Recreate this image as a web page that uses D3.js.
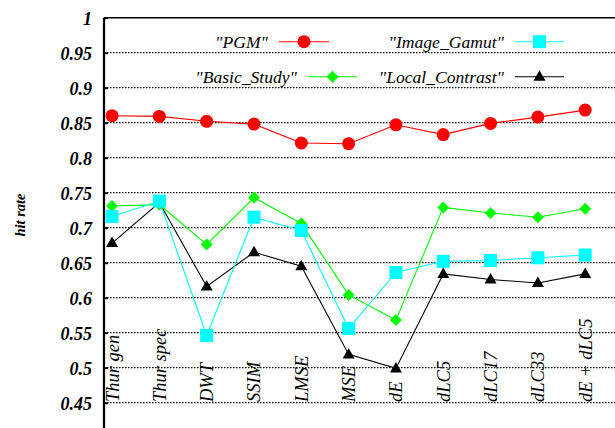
<!DOCTYPE html>
<html>
<head>
<meta charset="utf-8">
<script src="https://cdn.jsdelivr.net/npm/d3@7/dist/d3.min.js"></script>
<style>
  html, body { margin: 0; padding: 0; background: #fff; }
  svg { display: block; }
  text { font-family: "Liberation Serif", "Times New Roman", Times, "DejaVu Serif", serif; }
</style>
</head>
<body>
<svg id="chart" width="615" height="428"></svg>
<script>
const categories = ["Thur gen", "Thur spec", "DWT", "SSIM", "LMSE", "MSE", "dE", "dLC5", "dLC17", "dLC33", "dE + dLC5"];
const pgm = [0.860, 0.859, 0.852, 0.848, 0.821, 0.820, 0.847, 0.833, 0.849, 0.858, 0.868];
const imageGamut = [0.716, 0.738, 0.546, 0.715, 0.696, 0.556, 0.636, 0.652, 0.653, 0.657, 0.661];
const basicStudy = [0.731, 0.733, 0.676, 0.743, 0.706, 0.604, 0.568, 0.729, 0.721, 0.715, 0.727];
const localContrast = [0.678, 0.736, 0.616, 0.665, 0.645, 0.519, 0.499, 0.634, 0.626, 0.621, 0.634];
const yTicks = [0.45, 0.5, 0.55, 0.6, 0.65, 0.7, 0.75, 0.8, 0.85, 0.9, 0.95, 1];

const svg = d3.select("#chart");
const plotLeft = 104, plotTop = 17.7;

const x = d3.scaleLinear().domain([-0.17, 10.63]).range([plotLeft, 615]);
const y = d3.scaleLinear().domain([0.4, 1]).range([437.7, plotTop]);

// grid lines
svg.append("g").selectAll("line")
  .data(yTicks.filter(t => t < 1))
  .join("line")
  .attr("x1", plotLeft).attr("x2", 615)
  .attr("y1", d => y(d)).attr("y2", d => y(d))
  .attr("stroke", "#000").attr("stroke-width", 1.3)
  .attr("stroke-dasharray", "1.5,1.5");

// axis with ticks
const yAxis = d3.axisLeft(y).tickValues(yTicks).tickSize(-4).tickFormat(d3.format("~g"));
const gy = svg.append("g").attr("transform", `translate(${plotLeft},0)`).call(yAxis);
gy.attr("font-family", null);
gy.select(".domain").remove();
gy.selectAll(".tick line").attr("stroke", "#000").attr("stroke-width", 2);
gy.selectAll(".tick text")
  .attr("x", -12)
  .attr("dy", "0.35em")
  .attr("font-style", "italic").attr("font-weight", "bold")
  .attr("font-size", 18).attr("fill", "#000");

// frame
svg.append("line").attr("x1", plotLeft).attr("x2", plotLeft).attr("y1", plotTop).attr("y2", 428)
  .attr("stroke", "#000").attr("stroke-width", 2.2);
svg.append("line").attr("x1", plotLeft).attr("x2", 615).attr("y1", plotTop).attr("y2", plotTop)
  .attr("stroke", "#000").attr("stroke-width", 1.4);

// y title
svg.append("text")
  .attr("transform", `translate(25,215) rotate(-90)`)
  .attr("text-anchor", "middle")
  .attr("font-style", "italic").attr("font-weight", "bold")
  .attr("font-size", 14.5).text("hit rate");

// x labels (rotated)
svg.append("g").selectAll("text")
  .data(categories)
  .join("text")
  .attr("transform", (d, i) => `translate(${x(i)},402) rotate(-90)`)
  .attr("dy", "0.35em")
  .attr("text-anchor", "start")
  .attr("font-style", "italic")
  .attr("font-size", 18.5).attr("fill", "#000")
  .text(d => d);

const series = [
  { name: "\"PGM\"", values: pgm, color: "#ff0000", shape: "circle" },
  { name: "\"Image_Gamut\"", values: imageGamut, color: "#00ffff", shape: "square" },
  { name: "\"Basic_Study\"", values: basicStudy, color: "#00ff00", shape: "diamond" },
  { name: "\"Local_Contrast\"", values: localContrast, color: "#000000", shape: "triangle" }
];

function marker(g, shape, color) {
  if (shape === "circle") g.append("circle").attr("r", 6.5).attr("fill", color);
  else if (shape === "square") g.append("rect").attr("x", -6.5).attr("y", -6.5).attr("width", 13).attr("height", 13).attr("fill", color);
  else if (shape === "diamond") g.append("path").attr("d", "M0,-6 L6,0 L0,6 L-6,0 Z").attr("fill", color);
  else g.append("path").attr("d", "M0,-6.5 L6,4 L-6,4 Z").attr("fill", color);
}

const line = d3.line().x((d, i) => x(i)).y(d => y(d));
const drawOrder = [series[0], series[2], series[3], series[1]];
const plot = svg.append("g");
drawOrder.forEach(s => {
  plot.append("path").datum(s.values).attr("d", line)
    .attr("fill", "none").attr("stroke", s.color).attr("stroke-width", 1.1);
});
drawOrder.forEach(s => {
  s.values.forEach((v, i) => {
    const g = plot.append("g").attr("transform", `translate(${x(i)},${y(v)})`);
    marker(g, s.shape, s.color);
  });
});

// legend
const legendItems = [
  { s: series[0], tx: 268, lx1: 279, lx2: 329, ly: 41.7 },
  { s: series[1], tx: 504, lx1: 515, lx2: 564, ly: 41.7 },
  { s: series[2], tx: 297, lx1: 308, lx2: 357, ly: 76.7 },
  { s: series[3], tx: 504, lx1: 515, lx2: 564, ly: 76.7 }
];
const lg = svg.append("g");
legendItems.forEach(it => {
  lg.append("text").attr("x", it.tx).attr("y", it.ly).attr("dy", "0.35em")
    .attr("text-anchor", "end")
    .attr("font-style", "italic")
    .attr("font-size", 17.6).text(it.s.name);
  lg.append("line").attr("x1", it.lx1).attr("x2", it.lx2).attr("y1", it.ly).attr("y2", it.ly)
    .attr("stroke", it.s.color).attr("stroke-width", 1.1);
  const g = lg.append("g").attr("transform", `translate(${(it.lx1 + it.lx2) / 2},${it.ly})`);
  marker(g, it.s.shape, it.s.color);
});
</script>
</body>
</html>
